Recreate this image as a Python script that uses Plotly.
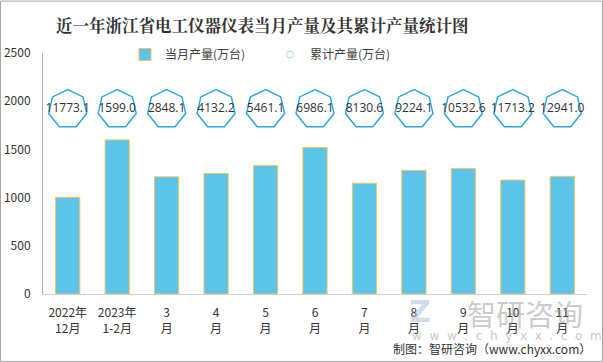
import math
import plotly.graph_objects as go

# ---- data ----
categories = ["2022年<br>12月", "2023年<br>1-2月", "3<br>月", "4<br>月", "5<br>月", "6<br>月",
              "7<br>月", "8<br>月", "9<br>月", "10<br>月", "11<br>月"]
monthly = [1003, 1599, 1215, 1250, 1332, 1520, 1148, 1282, 1303, 1182, 1220]
cumulative = [11773.1, 1599.0, 2848.1, 4132.2, 5461.1, 6986.1, 8130.6, 9224.1, 10532.6, 11713.2, 12941.0]
y_ticks = [0, 500, 1000, 1500, 2000, 2500]

# ---- style ----
W, H = 603, 362
ML, MR, MT, MB = 43, 16, 52.5, 68
LABEL_Y = 1918          # height (in y units) where the cumulative badges sit
R = 19.5                # heptagon radius in px
BAR_COLOR = "#5bc4e8"
BAR_EDGE = "#f5c55c"
HEPT_COLOR = "#2aa8e0"

fig = go.Figure()
fig.add_trace(go.Bar(
    x=categories, y=monthly, name="当月产量(万台)",
    marker=dict(color=BAR_COLOR, line=dict(color=BAR_EDGE, width=1)),
    width=0.49,
))
fig.add_trace(go.Scatter(
    x=categories, y=[LABEL_Y] * len(categories), mode="text",
    text=[f"{v:.1f}" for v in cumulative], textposition="middle center",
    textfont=dict(size=12, color="#333333", family="Open Sans, Noto Sans CJK SC"),
    showlegend=False, hoverinfo="skip",
))
# legend-only entry for cumulative series
fig.add_trace(go.Scatter(
    x=[None], y=[None], mode="markers", name="累计产量(万台)",
    marker=dict(symbol="circle-open", size=7, color="#a9dcf0", line=dict(width=1)),
))

# heptagon outlines anchored at each category (pixel-sized path, +y is up), vertex on top
pts = []
for k in range(7):
    a = math.pi / 2 + k * 2 * math.pi / 7
    pts.append((R * math.cos(a), R * math.sin(a)))
path = "M" + " L".join(f"{px:.2f},{py:.2f}" for px, py in pts) + " Z"
shapes = []
for i in range(len(categories)):
    shapes.append(dict(type="path", path=path, xref="x", yref="y",
                       xsizemode="pixel", ysizemode="pixel",
                       xanchor=i, yanchor=LABEL_Y,
                       line=dict(color=HEPT_COLOR, width=1.5), layer="below"))
pw = W - ML - MR
ph = H - MT - MB
shapes.append(dict(type="rect", xref="paper", yref="paper",
                   x0=(-ML + 0.5) / pw, x1=1 + (MR - 0.5) / pw,
                   y0=(-MB + 0.5) / ph, y1=1 + (MT - 0.5) / ph,
                   line=dict(color="#a6a6a6", width=1), fillcolor="rgba(0,0,0,0)"))


def px_x(v):
    return (v - ML) / pw


def px_y(v):
    return (H - MB - v) / ph


annotations = [
    dict(text="<b>近一年浙江省电工仪器仪表当月产量及其累计产量统计图</b>", xref="paper", yref="paper",
         x=px_x(262), y=px_y(24), xanchor="center", yanchor="middle",
         showarrow=False, font=dict(size=16.5, color="#333333", family="Noto Serif CJK SC, Noto Sans CJK SC")),
    dict(text="<b>Z</b>", xref="paper", yref="paper",
         x=px_x(420), y=px_y(312), xanchor="center", yanchor="middle",
         showarrow=False, font=dict(size=30, color="rgba(170,190,220,0.55)", family="DejaVu Sans")),
    dict(text="智研咨询", xref="paper", yref="paper",
         x=px_x(525), y=px_y(313), xanchor="center", yanchor="middle",
         showarrow=False, font=dict(size=29, color="rgba(140,140,140,0.45)", family="Noto Sans CJK SC")),
    dict(text="w  w  w  .  c  h  y  x  x  .  c  o  m", xref="paper", yref="paper",
         x=px_x(507), y=px_y(336), xanchor="center", yanchor="middle",
         showarrow=False, font=dict(size=12, color="rgba(150,150,150,0.55)", family="DejaVu Sans")),
    dict(text="制图：智研咨询（www.chyxx.com）", xref="paper", yref="paper",
         x=px_x(593), y=px_y(349), xanchor="right", yanchor="middle",
         showarrow=False, font=dict(size=12, color="#333333", family="Noto Sans CJK SC")),
]

fig.update_layout(
    width=W, height=H,
    margin=dict(l=ML, r=MR, t=MT, b=MB, pad=0, autoexpand=False),
    paper_bgcolor="white", plot_bgcolor="white",
    font=dict(family="Noto Sans CJK SC, Open Sans", color="#333333", size=12),
    showlegend=True,
    legend=dict(orientation="h", x=px_x(125), y=px_y(54),
                xanchor="left", yanchor="middle", itemwidth=30, entrywidth=100,
                font=dict(size=12, color="#404040"), bgcolor="rgba(0,0,0,0)"),
    bargap=0.51,
    shapes=shapes,
    annotations=annotations,
    xaxis=dict(type="category", showline=True, linecolor="#d0d0d0", linewidth=1,
               ticks="", showgrid=False, tickfont=dict(size=12, color="#333333"),
               range=[-0.5, len(categories) - 0.5], automargin=False,
               ticklabelstandoff=8),
    yaxis=dict(range=[0, 2500], tickvals=y_ticks, showline=True, linecolor="#b0b0b0",
               linewidth=1, showgrid=False, zeroline=False, ticks="",
               tickfont=dict(size=12, color="#333333"), ticklabelstandoff=9,
               automargin=False),
)

fig.write_html("out.html", config={"displayModeBar": False},
               post_script="document.body.style.margin='0';document.body.style.overflow='hidden';")
